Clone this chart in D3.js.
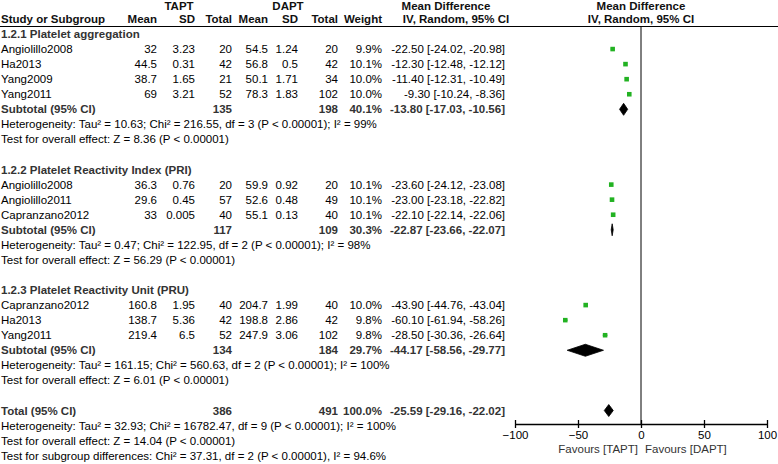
<!DOCTYPE html>
<html>
<head>
<meta charset="utf-8">
<script src="https://cdn.jsdelivr.net/npm/d3@7"></script>
<style>
  html, body { margin: 0; padding: 0; background: #fff; }
  svg { display: block; }
  text { font-family: "Liberation Sans", Arial, Helvetica, sans-serif; }
</style>
</head>
<body>
<svg id="chart" width="778" height="464"></svg>
<script>
// ---------------- data ----------------
const groupTitles = ["1.2.1 Platelet aggregation", "1.2.2 Platelet Reactivity Index (PRI)", "1.2.3 Platelet Reactivity Unit (PRU)"];
const studyNames = ["Angiolillo2008", "Ha2013", "Yang2009", "Yang2011", "Angiolillo2008", "Angiolillo2011", "Capranzano2012", "Capranzano2012", "Ha2013", "Yang2011"];
const studyGroup = [0, 0, 0, 0, 1, 1, 1, 2, 2, 2];
const taptMean = [32, 44.5, 38.7, 69, 36.3, 29.6, 33, 160.8, 138.7, 219.4];
const taptSD = [3.23, 0.31, 1.65, 3.21, 0.76, 0.45, 0.005, 1.95, 5.36, 6.5];
const taptN = [20, 42, 21, 52, 20, 57, 40, 40, 42, 52];
const daptMean = [54.5, 56.8, 50.1, 78.3, 59.9, 52.6, 55.1, 204.7, 198.8, 247.9];
const daptSD = [1.24, 0.5, 1.71, 1.83, 0.92, 0.48, 0.13, 1.99, 2.86, 3.06];
const daptN = [20, 42, 34, 102, 20, 49, 40, 40, 42, 102];
const weights = [9.9, 10.1, 10.0, 10.0, 10.1, 10.1, 10.1, 10.0, 9.8, 9.8];
const meanDiff = [-22.50, -12.30, -11.40, -9.30, -23.60, -23.00, -22.10, -43.90, -60.10, -28.50];
const ciLow = [-24.02, -12.48, -12.31, -10.24, -24.12, -23.18, -22.14, -44.76, -61.94, -30.36];
const ciHigh = [-20.98, -12.12, -10.49, -8.36, -23.08, -22.82, -22.06, -43.04, -58.26, -26.64];

const subTaptN = [135, 117, 134];
const subDaptN = [198, 109, 184];
const subWeight = [40.1, 30.3, 29.7];
const subMD = [-13.80, -22.87, -44.17];
const subLow = [-17.03, -23.66, -58.56];
const subHigh = [-10.56, -22.07, -29.77];
const subHetero = [
  "Heterogeneity: Tau² = 10.63; Chi² = 216.55, df = 3 (P < 0.00001); I² = 99%",
  "Heterogeneity: Tau² = 0.47; Chi² = 122.95, df = 2 (P < 0.00001); I² = 98%",
  "Heterogeneity: Tau² = 161.15; Chi² = 560.63, df = 2 (P < 0.00001); I² = 100%"
];
const subEffect = [
  "Test for overall effect: Z = 8.36 (P < 0.00001)",
  "Test for overall effect: Z = 56.29 (P < 0.00001)",
  "Test for overall effect: Z = 6.01 (P < 0.00001)"
];

const totalTaptN = [386];
const totalDaptN = [491];
const totalWeight = [100.0];
const totalMD = [-25.59];
const totalLow = [-29.16];
const totalHigh = [-22.02];
const totalNotes = [
  "Heterogeneity: Tau² = 32.93; Chi² = 16782.47, df = 9 (P < 0.00001); I² = 100%",
  "Test for overall effect: Z = 14.04 (P < 0.00001)",
  "Test for subgroup differences: Chi² = 37.31, df = 2 (P < 0.00001), I² = 94.6%"
];

const axisTicks = [-100, -50, 0, 50, 100];
const axisDomain = [-100, 100];
const favourLabels = ["Favours [TAPT]", "Favours [DAPT]"];

// ---------------- layout ----------------
const svg = d3.select("#chart");
const FS = 11.5;
const green = "#22b222";
const boldCol = "#333";

const rows = [];
let r = 0;
groupTitles.forEach((title, g) => {
  rows.push({ type: "heading", idx: r++, text: title });
  studyNames.forEach((name, i) => {
    if (studyGroup[i] === g) rows.push({ type: "study", idx: r++, i });
  });
  rows.push({ type: "subtotal", idx: r++, g });
  rows.push({ type: "note", idx: r++, text: subHetero[g] });
  rows.push({ type: "note", idx: r++, text: subEffect[g] });
  r++; // blank
});
rows.push({ type: "total", idx: r++ });
totalNotes.forEach(t => rows.push({ type: "note", idx: r++, text: t }));
const lastIdx = r - 1;

const y = d3.scaleLinear().domain([0, lastIdx]).range([34, 455.7]);
const x = d3.scaleLinear().domain(axisDomain).range([515, 767]);

const col = { mean1: 157, sd1: 195, n1: 232, mean2: 268, sd2: 298, n2: 338, weight: 382, effect: 505 };

function txt(xp, yc, s, opts = {}) {
  return svg.append("text")
    .attr("x", xp)
    .attr("y", yc + 4)
    .attr("font-size", opts.size || FS)
    .attr("font-weight", opts.bold ? "bold" : "normal")
    .attr("fill", opts.fill || "#000")
    .attr("text-anchor", opts.anchor || "start")
    .text(s);
}
const fmtCI = (m, l, h) => `${m.toFixed(2)} [${l.toFixed(2)}, ${h.toFixed(2)}]`;

// headers
const h1 = 6, h2 = 19;
txt(179, h1, "TAPT", { bold: true, anchor: "middle", fill: "#111" });
txt(288, h1, "DAPT", { bold: true, anchor: "middle", fill: "#111" });
txt(446, h1, "Mean Difference", { bold: true, anchor: "middle", fill: "#111" });
txt(x(0), h1, "Mean Difference", { bold: true, anchor: "middle", fill: "#111" });
txt(1, h2, "Study or Subgroup", { bold: true, fill: "#111" });
[["Mean", col.mean1], ["SD", col.sd1], ["Total", col.n1], ["Mean", col.mean2], ["SD", col.sd2], ["Total", col.n2], ["Weight", col.weight]]
  .forEach(([s, xp]) => txt(xp, h2, s, { bold: true, anchor: "end", fill: "#111" }));
txt(456, h2, "IV, Random, 95% CI", { bold: true, anchor: "middle", fill: "#111" });
txt(x(0), h2, "IV, Random, 95% CI", { bold: true, anchor: "middle", fill: "#111" });

svg.append("line").attr("x1", 0).attr("x2", 778).attr("y1", 26.5).attr("y2", 26.5)
  .attr("stroke", "#000").attr("stroke-width", 1.2);

// zero line
const axisY = 424;
svg.append("line").attr("x1", x(0)).attr("x2", x(0)).attr("y1", 26).attr("y2", axisY)
  .attr("stroke", "#000").attr("stroke-width", 1);

function diamond(m, l, h, yc, hh) {
  return `M${x(l)},${yc} L${x(m)},${yc - hh} L${x(h)},${yc} L${x(m)},${yc + hh} Z`;
}

rows.forEach(row => {
  const yc = y(row.idx);
  if (row.type === "heading") {
    txt(1, yc, row.text, { bold: true, fill: boldCol });
  } else if (row.type === "note") {
    txt(1, yc, row.text);
  } else if (row.type === "study") {
    const i = row.i;
    txt(1, yc, studyNames[i]);
    txt(col.mean1, yc, String(taptMean[i]), { anchor: "end" });
    txt(col.sd1, yc, String(taptSD[i]), { anchor: "end" });
    txt(col.n1, yc, String(taptN[i]), { anchor: "end" });
    txt(col.mean2, yc, String(daptMean[i]), { anchor: "end" });
    txt(col.sd2, yc, String(daptSD[i]), { anchor: "end" });
    txt(col.n2, yc, String(daptN[i]), { anchor: "end" });
    txt(col.weight, yc, weights[i].toFixed(1) + "%", { anchor: "end" });
    txt(col.effect, yc, fmtCI(meanDiff[i], ciLow[i], ciHigh[i]), { anchor: "end" });
    svg.append("line").attr("x1", x(ciLow[i])).attr("x2", x(ciHigh[i]))
      .attr("y1", yc).attr("y2", yc).attr("stroke", green).attr("stroke-width", 1.2);
    const s = 1.45 * Math.sqrt(weights[i]);
    svg.append("rect").attr("x", x(meanDiff[i]) - s / 2).attr("y", yc - s / 2)
      .attr("width", s).attr("height", s).attr("fill", green);
  } else if (row.type === "subtotal") {
    const g = row.g;
    txt(1, yc, "Subtotal (95% CI)", { bold: true, fill: boldCol });
    txt(col.n1, yc, String(subTaptN[g]), { bold: true, anchor: "end", fill: boldCol });
    txt(col.n2, yc, String(subDaptN[g]), { bold: true, anchor: "end", fill: boldCol });
    txt(col.weight, yc, subWeight[g].toFixed(1) + "%", { bold: true, anchor: "end", fill: boldCol });
    txt(col.effect, yc, fmtCI(subMD[g], subLow[g], subHigh[g]), { bold: true, anchor: "end", fill: boldCol });
    svg.append("path").attr("d", diamond(subMD[g], subLow[g], subHigh[g], yc, 6))
      .attr("fill", "#000").attr("stroke", "#000").attr("stroke-width", 0.8);
  } else if (row.type === "total") {
    txt(1, yc, "Total (95% CI)", { bold: true, fill: boldCol });
    txt(col.n1, yc, String(totalTaptN[0]), { bold: true, anchor: "end", fill: boldCol });
    txt(col.n2, yc, String(totalDaptN[0]), { bold: true, anchor: "end", fill: boldCol });
    txt(col.weight, yc, totalWeight[0].toFixed(1) + "%", { bold: true, anchor: "end", fill: boldCol });
    txt(col.effect, yc, fmtCI(totalMD[0], totalLow[0], totalHigh[0]), { bold: true, anchor: "end", fill: boldCol });
    svg.append("path").attr("d", diamond(totalMD[0], totalLow[0], totalHigh[0], yc, 6))
      .attr("fill", "#000").attr("stroke", "#000").attr("stroke-width", 0.8);
  }
});

// axis
const axis = d3.axisBottom(x).tickValues(axisTicks).tickSize(3).tickSizeOuter(0).tickFormat(d3.format("d"));
const gAxis = svg.append("g").attr("transform", `translate(0,${axisY})`).call(axis);
gAxis.select(".domain").attr("stroke", "#000").attr("stroke-width", 1.3);
gAxis.selectAll(".tick line").attr("y1", -4).attr("y2", 4).attr("stroke", "#000").attr("stroke-width", 1.3);
gAxis.selectAll(".tick text").attr("y", 7).attr("font-size", FS)
  .attr("font-family", "Liberation Sans, Arial, sans-serif").attr("fill", "#000");

txt(x(0) - 3, 449, favourLabels[0], { anchor: "end", fill: "#333" });
txt(x(0) + 4, 449, favourLabels[1], { anchor: "start", fill: "#333" });
</script>
</body>
</html>
